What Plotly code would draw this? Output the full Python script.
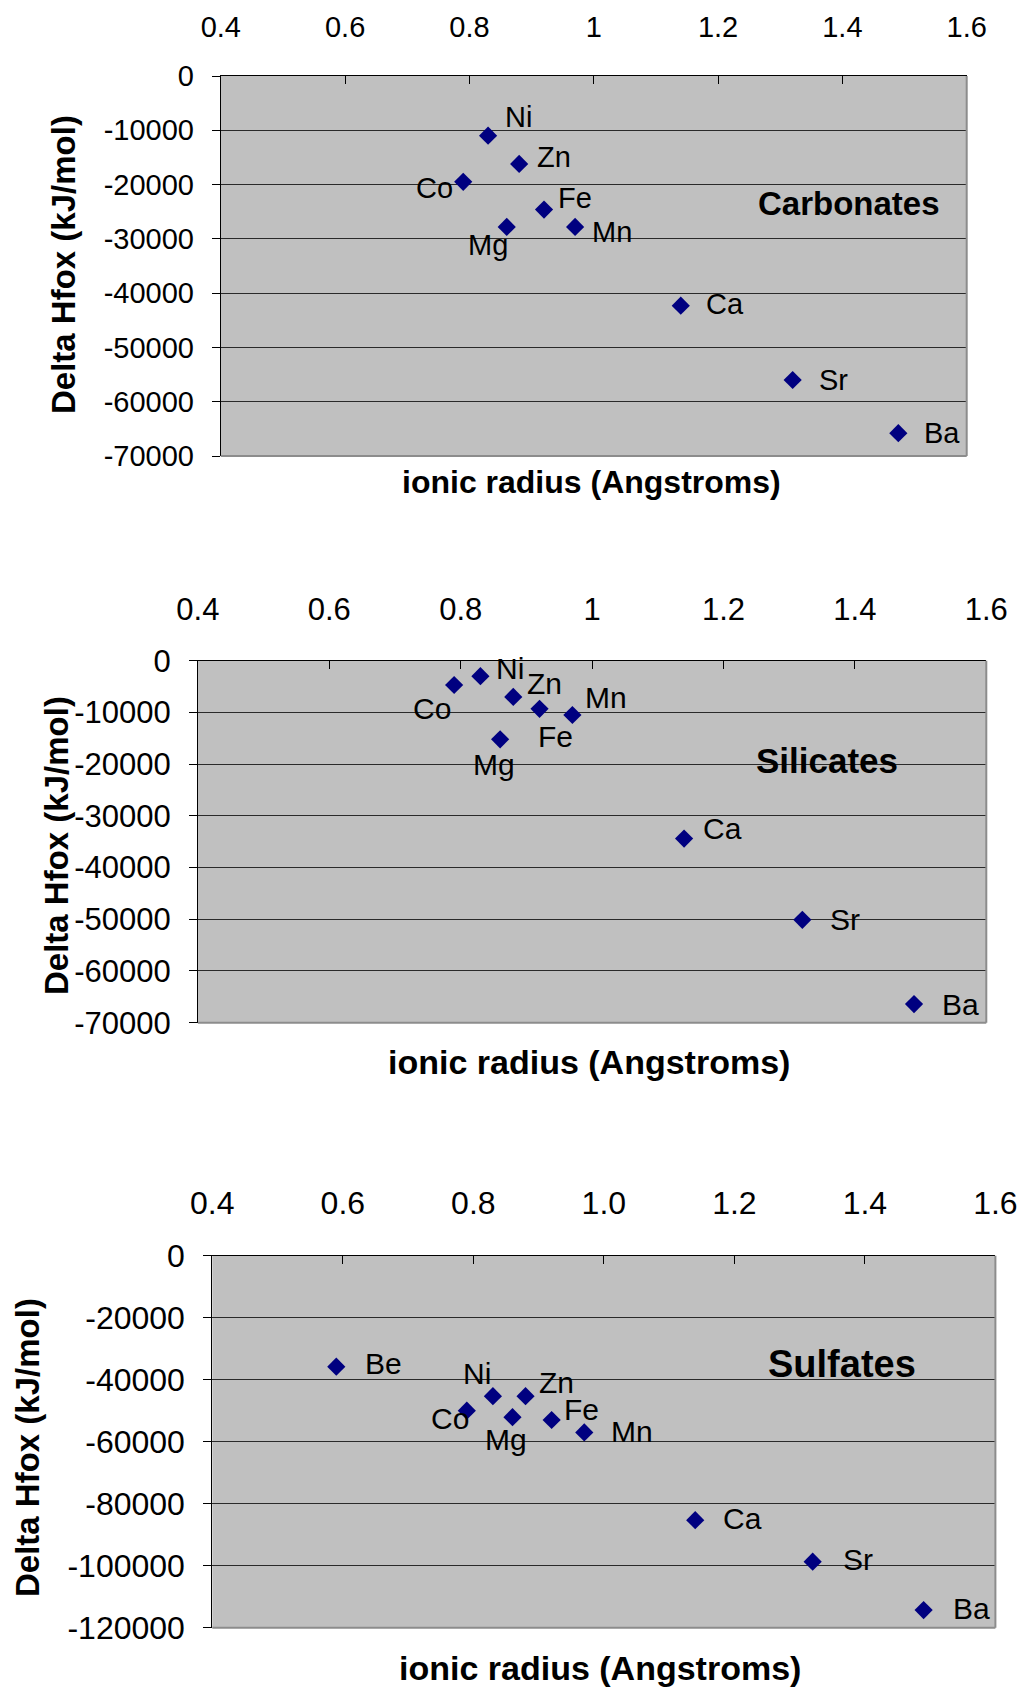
import plotly.graph_objects as go

W, H = 1019, 1690

# ---------------- data ----------------
carb_elements = ["Ni", "Zn", "Co", "Fe", "Mg", "Mn", "Ca", "Sr", "Ba"]
carb_radius = [0.83, 0.88, 0.79, 0.92, 0.86, 0.97, 1.14, 1.32, 1.49]
carb_dhfox = [-11000, -16200, -19500, -24600, -27800, -27800, -42300, -56000, -65800]

sil_elements = ["Co", "Ni", "Zn", "Fe", "Mn", "Mg", "Ca", "Sr", "Ba"]
sil_radius = [0.79, 0.83, 0.88, 0.92, 0.97, 0.86, 1.14, 1.32, 1.49]
sil_dhfox = [-4700, -3000, -7000, -9300, -10500, -15200, -34400, -50100, -66400]

sulf_elements = ["Be", "Co", "Ni", "Zn", "Mg", "Fe", "Mn", "Ca", "Sr", "Ba"]
sulf_radius = [0.59, 0.79, 0.83, 0.88, 0.86, 0.92, 0.97, 1.14, 1.32, 1.49]
sulf_dhfox = [-35800, -50000, -45300, -45300, -52100, -53000, -57000, -85300, -98700, -114300]

x_tickvals = [0.4, 0.6, 0.8, 1.0, 1.2, 1.4, 1.6]
x_ticktext_plain = ["0.4", "0.6", "0.8", "1", "1.2", "1.4", "1.6"]
x_ticktext_onedec = ["0.4", "0.6", "0.8", "1.0", "1.2", "1.4", "1.6"]

y_tickvals_70k = [0, -10000, -20000, -30000, -40000, -50000, -60000, -70000]
y_ticktext_70k = ["0", "-10000", "-20000", "-30000", "-40000", "-50000", "-60000", "-70000"]
y_tickvals_120k = [0, -20000, -40000, -60000, -80000, -100000, -120000]
y_ticktext_120k = ["0", "-20000", "-40000", "-60000", "-80000", "-100000", "-120000"]

panel_titles = ["Carbonates", "Silicates", "Sulfates"]
x_title = "ionic radius (Angstroms)"
y_title = "Delta Hfox (kJ/mol)"

# ---------------- layout / styling (pixel geometry) ----------------
FONT = "Liberation Sans, Arial, sans-serif"

# label offsets (pixels: dx right, dy down) for each point label
carb_offsets = [(30, -19), (35, -7), (-29, 6), (31, -12), (-19, 18), (37, 5), (44, -2), (41, 0), (44, 0)]
sil_offsets = [(-22, 23), (30, -8), (31, -13), (16, 28), (34, -18), (-6, 25), (38, -10), (43, 0), (46, 0)]
sulf_offsets = [(47, -3), (-17, 8), (-16, -23), (31, -14), (-6, 22), (30, -11), (48, -1), (47, -2), (45, -2), (48, -2)]

panels = [
    dict(el=carb_elements, x=carb_radius, y=carb_dhfox, off=carb_offsets,
         box=(220.8, 966.7, 76, 456), yr=-70000, ytv=y_tickvals_70k, ytt=y_ticktext_70k,
         xtt=x_ticktext_plain, tick=29, lab=29, title=panel_titles[0], tpos=(849, 203), tsize=33,
         xt_pos=(591, 482), xt_size=32, yt_pos=(63, 265), x_standoff=26),
    dict(el=sil_elements, x=sil_radius, y=sil_dhfox, off=sil_offsets,
         box=(197.9, 986.3, 660.7, 1022.7), yr=-70000, ytv=y_tickvals_70k, ytt=y_ticktext_70k,
         xtt=x_ticktext_plain, tick=31, lab=30, title=panel_titles[1], tpos=(827, 760), tsize=35,
         xt_pos=(589, 1062), xt_size=34, yt_pos=(56, 846), x_standoff=27),
    dict(el=sulf_elements, x=sulf_radius, y=sulf_dhfox, off=sulf_offsets,
         box=(212.3, 995.4, 1255.7, 1627.7), yr=-120000, ytv=y_tickvals_120k, ytt=y_ticktext_120k,
         xtt=x_ticktext_onedec, tick=32, lab=30, title=panel_titles[2], tpos=(842, 1364), tsize=38,
         xt_pos=(600, 1668), xt_size=34, yt_pos=(27, 1448), x_standoff=28),
]


def px(xp):
    return xp / W


def py(yp):
    return 1 - yp / H


fig = go.Figure()
annotations = []
shapes = []
layout_axes = {}

for i, p in enumerate(panels, start=1):
    l, r, t, b = p["box"]
    xa = "x" if i == 1 else f"x{i}"
    ya = "y" if i == 1 else f"y{i}"
    fig.add_trace(go.Scatter(
        x=p["x"], y=p["y"], mode="markers", xaxis=xa, yaxis=ya,
        marker=dict(symbol="diamond", size=14, color="#000080", line=dict(width=0)),
        showlegend=False, hoverinfo="x+y",
    ))
    layout_axes["xaxis" if i == 1 else f"xaxis{i}"] = dict(
        domain=[px(l), px(r)], anchor=ya, side="top", range=[0.4, 1.6],
        tickmode="array", tickvals=x_tickvals, ticktext=p["xtt"],
        ticks="inside", ticklen=8, tickwidth=1, tickcolor="black",
        showline=True, linecolor="black", linewidth=1,
        showgrid=False, zeroline=False, fixedrange=True, automargin=False,
        tickfont=dict(family=FONT, size=p["tick"], color="black"),
        ticklabelstandoff=p["x_standoff"],
    )
    layout_axes["yaxis" if i == 1 else f"yaxis{i}"] = dict(
        domain=[py(b), py(t)], anchor=xa, range=[p["yr"], 0],
        tickmode="array", tickvals=p["ytv"], ticktext=p["ytt"],
        ticks="outside", ticklen=8, tickwidth=1, tickcolor="black",
        showline=True, linecolor="black", linewidth=1,
        showgrid=True, gridcolor="#2a2a2a", gridwidth=1,
        zeroline=False, fixedrange=True, automargin=False,
        tickfont=dict(family=FONT, size=p["tick"], color="black"),
        ticklabelstandoff=12,
    )
    # grey right and bottom borders
    shapes.append(dict(type="line", xref="paper", yref="paper", x0=px(r), x1=px(r), y0=py(t), y1=py(b),
                       line=dict(color="#8c8c8c", width=2), layer="above"))
    shapes.append(dict(type="line", xref="paper", yref="paper", x0=px(l), x1=px(r), y0=py(b), y1=py(b),
                       line=dict(color="#8c8c8c", width=2), layer="above"))
    # point labels
    for el, xv, yv, (dx, dy) in zip(p["el"], p["x"], p["y"], p["off"]):
        annotations.append(dict(x=xv, y=yv, xref=xa, yref=ya, text=el, showarrow=False,
                                xanchor="center", yanchor="middle", xshift=dx, yshift=-dy,
                                font=dict(family=FONT, size=p["lab"], color="black")))
    # panel title
    annotations.append(dict(x=px(p["tpos"][0]), y=py(p["tpos"][1]), xref="paper", yref="paper",
                            text=f"<b>{p['title']}</b>", showarrow=False, xanchor="center", yanchor="middle",
                            font=dict(family=FONT, size=p["tsize"], color="black")))
    # axis titles
    annotations.append(dict(x=px(p["xt_pos"][0]), y=py(p["xt_pos"][1]), xref="paper", yref="paper",
                            text=f"<b>{x_title}</b>", showarrow=False, xanchor="center", yanchor="middle",
                            font=dict(family=FONT, size=p["xt_size"], color="black")))
    annotations.append(dict(x=px(p["yt_pos"][0]), y=py(p["yt_pos"][1]), xref="paper", yref="paper",
                            text=f"<b>{y_title}</b>", showarrow=False, textangle=-90,
                            xanchor="center", yanchor="middle",
                            font=dict(family=FONT, size=33, color="black")))

fig.update_layout(
    width=W, height=H, autosize=False,
    margin=dict(l=0, r=0, t=0, b=0, pad=0, autoexpand=False),
    paper_bgcolor="white", plot_bgcolor="#c0c0c0",
    font=dict(family=FONT, color="black"),
    annotations=annotations, shapes=shapes,
    showlegend=False,
    **layout_axes,
)

fig.write_html("out.html")
